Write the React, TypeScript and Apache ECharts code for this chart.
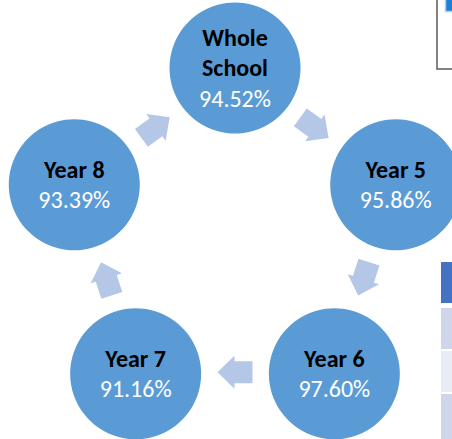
import React, { useEffect, useRef } from "react";
import * as echarts from "echarts";

// Nodes of the cycle, clockwise from the top
const categories: string[] = ["Whole School", "Year 5", "Year 6", "Year 7", "Year 8"];
// Attendance (%) per node
const attendance: number[] = [94.52, 95.86, 97.6, 91.16, 93.39];
// Arrows go from each node to the next one (clockwise)
const arrowFrom: string[] = ["Whole School", "Year 5", "Year 6", "Year 7", "Year 8"];

const FONT = "Carlito, Lato, 'Open Sans', sans-serif";
const ARROW_PATH = "path://M16.5,0 L33,17 L27.5,17 L27.5,35 L5.5,35 L5.5,17 L0,17 Z";

export default function App() {
  const ref = useRef<HTMLDivElement>(null);

  useEffect(() => {
    if (!ref.current) return;
    const chart = echarts.init(ref.current, null, { renderer: "svg" });
    const n = categories.length;
    const step = 360 / n;

    const option: any = {
      animation: false,
      backgroundColor: "#ffffff",
      polar: [
        { center: [235, 237], radius: 169 },
        { center: [235, 237], radius: 169 },
      ],
      angleAxis: [
        {
          polarIndex: 0,
          type: "category",
          data: categories,
          startAngle: 90,
          clockwise: true,
          boundaryGap: false,
          show: false,
        },
        {
          polarIndex: 1,
          type: "category",
          data: arrowFrom,
          startAngle: 90,
          clockwise: true,
          boundaryGap: true,
          show: false,
        },
      ],
      radiusAxis: [
        { polarIndex: 0, type: "value", min: 0, max: 1, show: false },
        { polarIndex: 1, type: "value", min: 0, max: 1, show: false },
      ],
      series: [
        {
          type: "scatter",
          coordinateSystem: "polar",
          polarIndex: 1,
          symbol: ARROW_PATH,
          symbolSize: [33, 35],
          itemStyle: { color: "#b4c7e7", opacity: 1 },
          silent: true,
          data: arrowFrom.map((name, i) => ({
            name,
            value: [0.8, i],
            symbolRotate: -(i * step + step / 2) - 90,
          })),
          z: 1,
        },
        {
          type: "scatter",
          coordinateSystem: "polar",
          polarIndex: 0,
          symbol: "circle",
          symbolSize: 131,
          itemStyle: { color: "#5b9bd5", opacity: 1 },
          silent: true,
          data: categories.map((name, i) => ({ name, value: [1, i] })),
          label: {
            show: true,
            position: "inside",
            formatter: (p: any) => {
              const name = categories[p.dataIndex];
              const lines = name.length > 8 ? name.split(" ") : [name];
              return (
                lines.map((l) => `{n|${l}}`).join("\n") +
                `\n{v|${attendance[p.dataIndex].toFixed(2)}%}`
              );
            },
            rich: {
              n: {
                fontFamily: FONT,
                fontSize: 24,
                fontWeight: "bold",
                color: "#000000",
                lineHeight: 30,
                align: "center",
              },
              v: {
                fontFamily: FONT,
                fontSize: 24,
                color: "#ffffff",
                lineHeight: 31,
                align: "center",
              },
            },
          },
          z: 2,
        },
      ],
      graphic: [
        {
          type: "rect",
          shape: { x: 437, y: -2, width: 20, height: 71 },
          style: { fill: "none", stroke: "#595959", lineWidth: 1.5 },
          silent: true,
        },
        {
          type: "rect",
          shape: { x: 445.5, y: -2, width: 10, height: 13.5 },
          style: { fill: "#1f7fd4", stroke: "#a9d0f5", lineWidth: 1.5 },
          silent: true,
        },
        {
          type: "rect",
          shape: { x: 441, y: 262, width: 12, height: 41 },
          style: { fill: "#4472c4" },
          silent: true,
        },
        {
          type: "rect",
          shape: { x: 441, y: 308, width: 12, height: 41 },
          style: { fill: "#cfd5ea" },
          silent: true,
        },
        {
          type: "rect",
          shape: { x: 441, y: 351, width: 12, height: 41 },
          style: { fill: "#e9ebf5" },
          silent: true,
        },
        {
          type: "rect",
          shape: { x: 441, y: 394, width: 12, height: 46 },
          style: { fill: "#cfd5ea" },
          silent: true,
        },
      ],
    };

    chart.setOption(option);
    return () => chart.dispose();
  }, []);

  return (
    <div
      ref={ref}
      style={{ position: "absolute", left: 0, top: 0, width: 452, height: 439 }}
    />
  );
}
